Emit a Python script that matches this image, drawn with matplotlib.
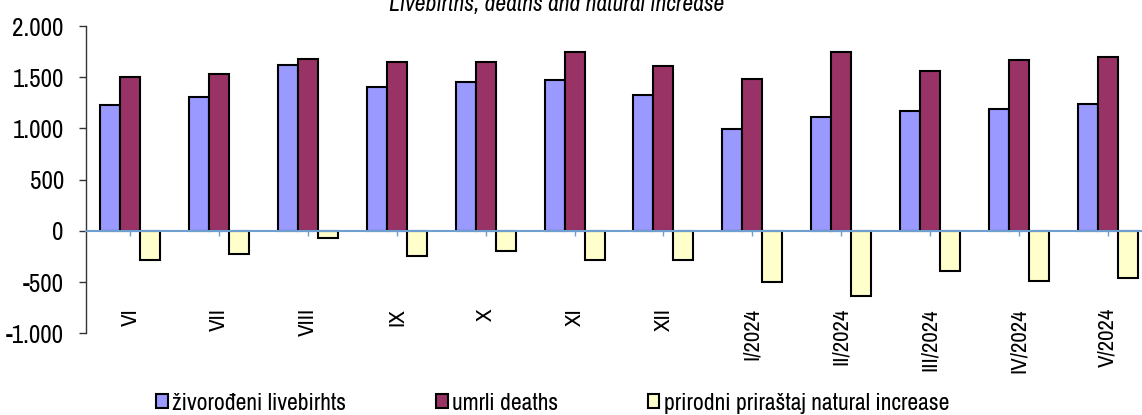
import numpy as np
import matplotlib
matplotlib.use("Agg")
import matplotlib.pyplot as plt
from matplotlib.patches import Patch

plt.rcParams['font.family'] = ['Archivo Narrow', 'Liberation Sans', 'DejaVu Sans']

# monthly data
months = ['VI', 'VII', 'VIII', 'IX', 'X', 'XI', 'XII',
          'I/2024', 'II/2024', 'III/2024', 'IV/2024', 'V/2024']
births = [1226, 1304, 1617, 1402, 1454, 1470, 1324, 991, 1114, 1167, 1190, 1238]
deaths = [1502, 1529, 1678, 1646, 1646, 1744, 1607, 1480, 1744, 1558, 1669, 1695]
natural = [-280, -230, -65, -250, -200, -280, -285, -495, -635, -395, -485, -462]

yticks = [-1000, -500, 0, 500, 1000, 1500, 2000]
ytick_labels = ['-1.000', '-500', '0', '500', '1.000', '1.500', '2.000']

c_births = '#9999FF'
c_deaths = '#993366'
c_natural = '#FFFFCC'
axis_blue = '#6F9FD0'

fig = plt.figure(figsize=(11.42, 4.15), dpi=100)
ax = fig.add_axes([0.0753, 0.1969, 0.9335, 0.7404])

x = np.arange(len(months))
w = 0.225
ax.bar(x - w, births, w, color=c_births, edgecolor='black', linewidth=1.5, zorder=2)
ax.bar(x, deaths, w, color=c_deaths, edgecolor='black', linewidth=1.5, zorder=2)
ax.bar(x + w, natural, w, color=c_natural, edgecolor='black', linewidth=1.5, zorder=2)

ax.set_xlim(-0.5, len(months) - 0.5)
ax.set_ylim(-1000, 2000)
ax.set_yticks(yticks)
ax.set_yticklabels(ytick_labels, fontsize=18)

ax.spines['top'].set_visible(False)
ax.spines['right'].set_visible(False)
ax.spines['left'].set_color('#333333')
ax.spines['left'].set_linewidth(1.0)
ax.spines['bottom'].set_position(('data', 0))
ax.spines['bottom'].set_color(axis_blue)
ax.spines['bottom'].set_linewidth(1.5)
ax.spines['bottom'].set_zorder(3)

ax.tick_params(axis='y', direction='out', length=5, width=1.0, color='#333333', pad=11)
ax.tick_params(axis='x', direction='out', length=3.6, width=1.0, color=axis_blue, pad=52)
ax.set_xticks(x)
ax.set_xticklabels(months, rotation=90, fontsize=16.5, va='top', ha='center')

fig.text(0.4877, 0.974, 'Livebirths, deaths and natural increase',
         ha='center', va='baseline', fontsize=17, style='italic')

handles = [Patch(facecolor=c_births, edgecolor='black', linewidth=1.5),
           Patch(facecolor=c_deaths, edgecolor='black', linewidth=1.5),
           Patch(facecolor=c_natural, edgecolor='black', linewidth=1.5)]
labels = ['živorođeni livebirhts', 'umrli deaths', 'prirodni priraštaj natural increase']
fig.legend(handles, labels, loc='center left', bbox_to_anchor=(0.1366, 0.0289),
           ncol=3, frameon=False, fontsize=17, handlelength=0.5, handleheight=0.5,
           handletextpad=0.18, columnspacing=3.8, borderpad=0, borderaxespad=0)

fig.savefig('out.png', dpi=100)
